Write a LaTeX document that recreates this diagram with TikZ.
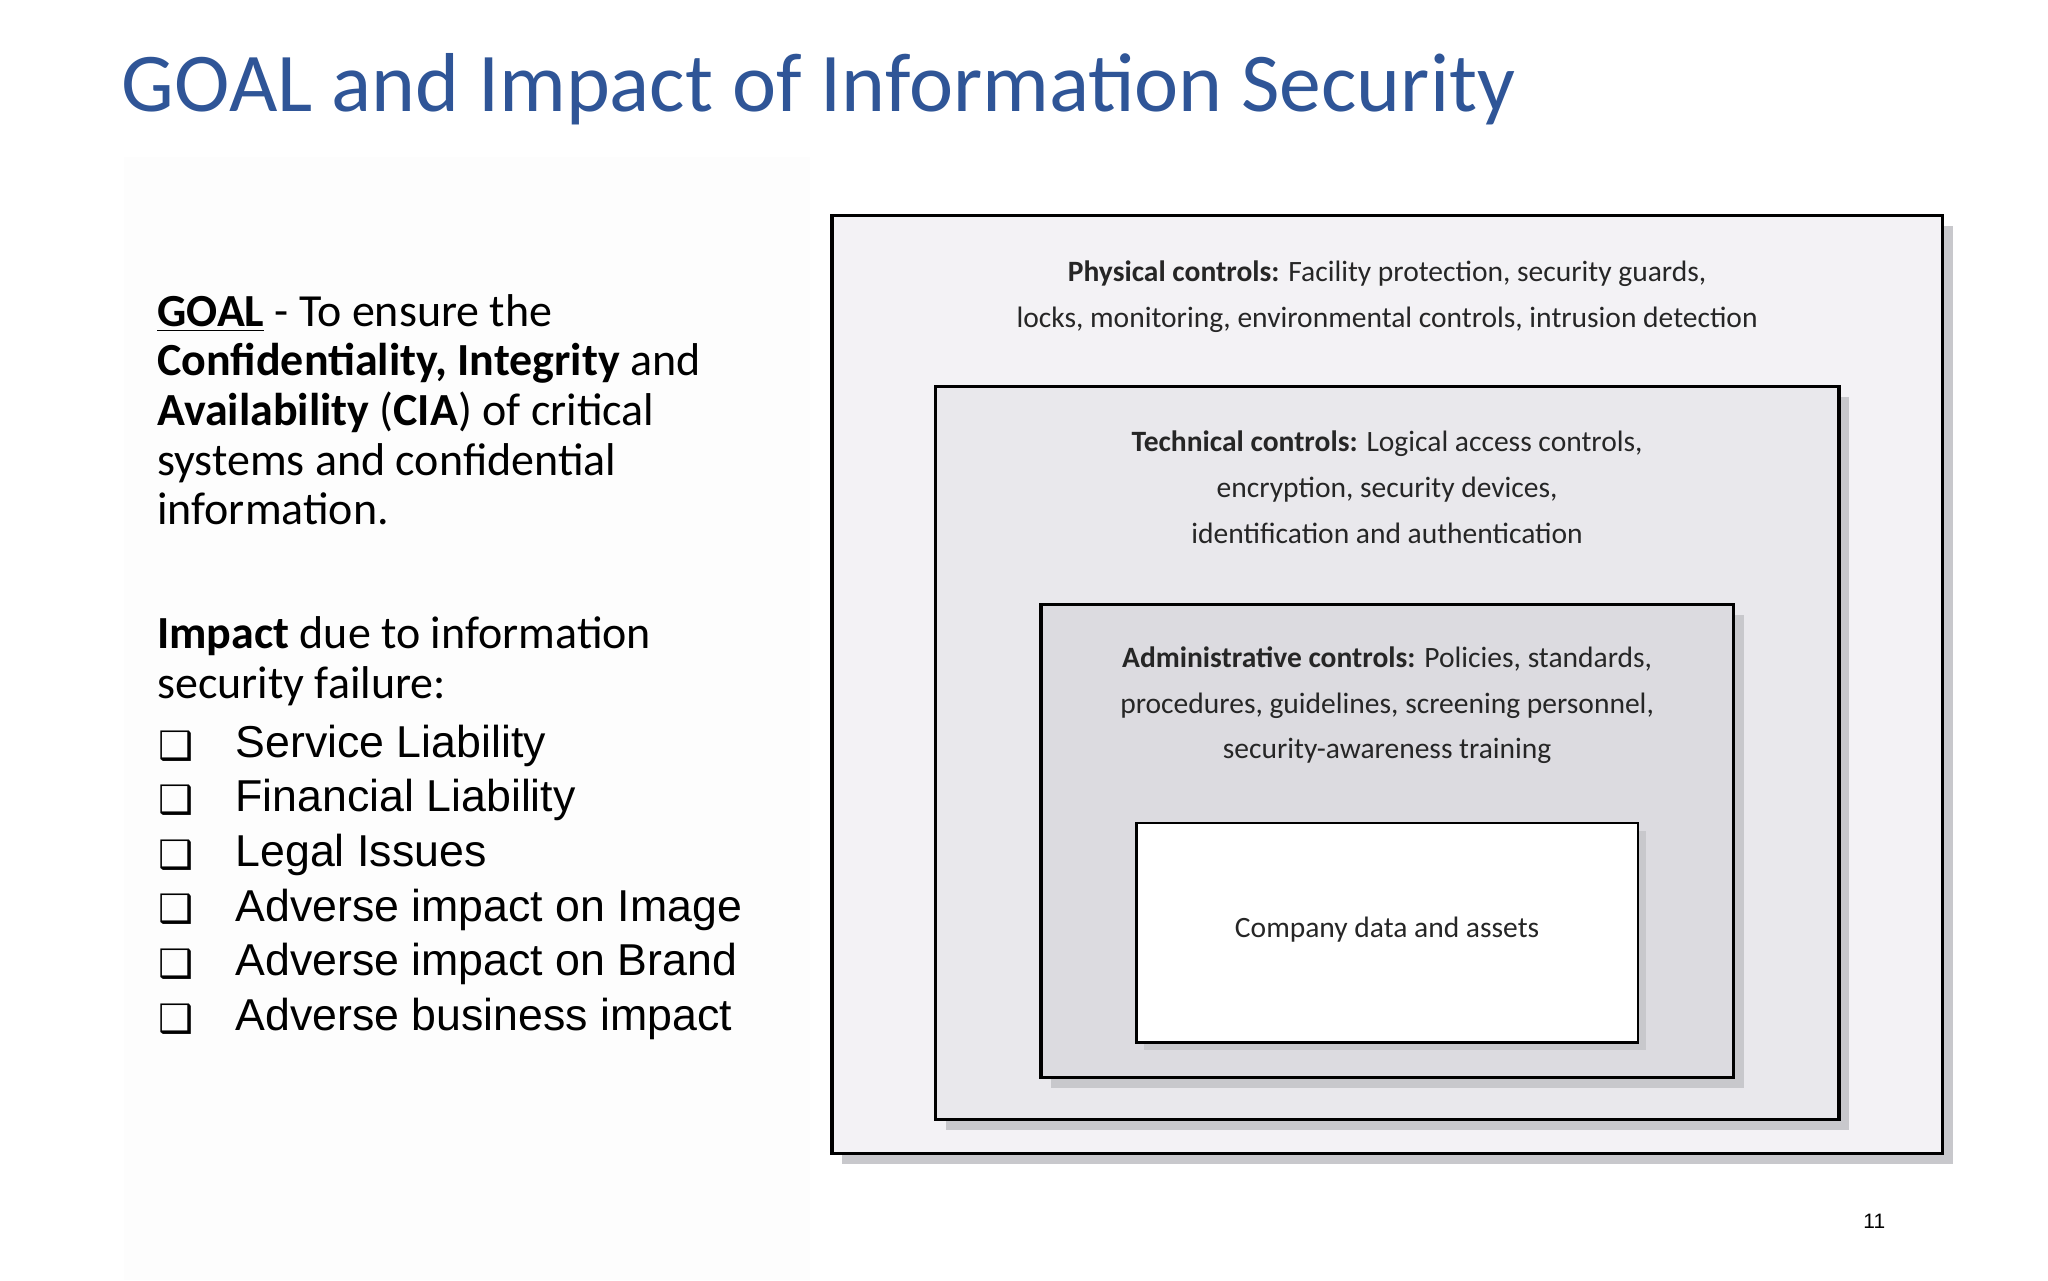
\documentclass[tikz,border=0pt]{standalone}
\usepackage{fontspec}
\setmainfont{Carlito}
\newfontfamily\arialf{Liberation Sans}
\newfontfamily\dejaf{DejaVu Sans}
\definecolor{titleblue}{HTML}{2F5597}
\definecolor{lay1}{HTML}{F3F2F5}
\definecolor{lay2}{HTML}{E9E8EC}
\definecolor{lay3}{HTML}{DCDBE0}
\definecolor{shad}{HTML}{C8C8CC}
\tikzset{
  layer/.style={draw=black, line width=1.2pt},
  lbl/.style={align=center, font=\fontsize{11.3}{17.5}\selectfont, text=black!85},
  bul/.style={anchor=west, font=\arialf\fontsize{17.1}{20}\selectfont},
  chk/.style={anchor=west, font=\dejaf\bfseries\fontsize{15}{16}\selectfont},
}
\begin{document}
\begin{tikzpicture}[x=0.5pt,y=-0.5pt]
\useasboundingbox (0,0) rectangle (1568,980);
\fill[white] (0,0) rectangle (1568,980);
\fill[black!0.8] (95,120) rectangle (620,980);
\node[anchor=base west, text=titleblue, font=\fontsize{32}{36}\selectfont, inner sep=0] (title) at (93,85) {GOAL and Impact of Information Security};
% boxes with shadows
\fill[shad] (645,173) rectangle (1495,891);
\draw[layer, fill=lay1] (637,165) rectangle (1487,883);
\fill[shad] (724,304) rectangle (1416,865);
\draw[layer, fill=lay2] (716,296) rectangle (1408,857);
\fill[shad] (805,471) rectangle (1335,833);
\draw[layer, fill=lay3] (797,463) rectangle (1327,825);
\fill[shad] (876,636) rectangle (1260,804);
\draw[line width=1pt, fill=white] (870,630) rectangle (1254,798);
\node[lbl] (phys) at (1062,227) {\textbf{Physical controls:} Facility protection, security guards,\\locks, monitoring, environmental controls, intrusion detection};
\node[lbl] (tech) at (1062,373) {\textbf{Technical controls:} Logical access controls,\\encryption, security devices,\\identification and authentication};
\node[lbl] (adm) at (1062,540) {\textbf{Administrative controls:} Policies, standards,\\procedures, guidelines, screening personnel,\\security-awareness training};
\node[lbl] (core) at (1062,712) {Company data and assets};
% left text
\node[anchor=north west, align=left, inner sep=0, font=\fontsize{17.6}{19}\selectfont] (goal) at (120,225)
{\underline{\textbf{GOAL}} - To ensure the\\\textbf{Confidentiality, Integrity} and\\\textbf{Availability} (\textbf{CIA}) of critical\\systems and confidential\\information.};
\node[anchor=north west, align=left, inner sep=0, font=\fontsize{17.6}{19}\selectfont] (imp) at (120,472)
{\textbf{Impact} due to information\\security failure:};
\foreach \t [count=\i] in {Service Liability,Financial Liability,Legal Issues,Adverse impact on Image,Adverse impact on Brand,Adverse business impact}{
  \node[chk, inner sep=0] (c\i) at (121,{571+(\i-1)*41.8}) {❑};
  \node[bul, inner sep=0] (b\i) at (180,{571+(\i-1)*41.8}) {\t};
}
\node[font=\arialf\fontsize{8}{10}\selectfont] (pg) at (1435,935) {11};
\end{tikzpicture}
\end{document}
